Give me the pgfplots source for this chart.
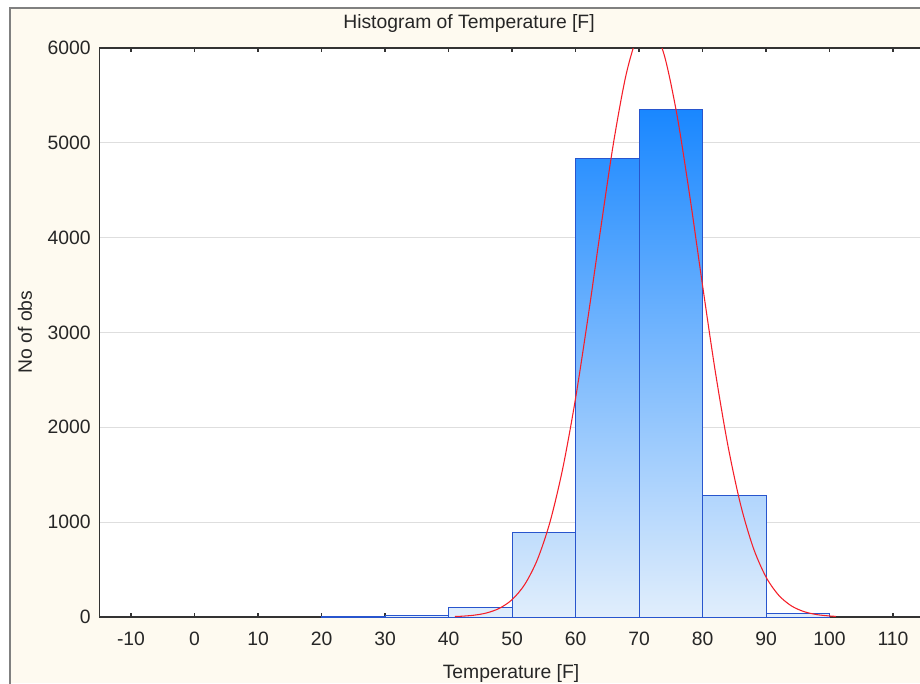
\documentclass[border=0pt]{standalone}
\usepackage{fontspec}
\setmainfont{Liberation Sans}
\usepackage{pgfplots}
\pgfplotsset{compat=1.18}

\definecolor{bgcream}{RGB}{254,250,240}
\definecolor{framegray}{RGB}{128,128,128}
\definecolor{baredge}{RGB}{40,85,205}
\definecolor{bartop}{RGB}{25,135,255}
\definecolor{barbottom}{RGB}{225,238,252}
\definecolor{fitred}{RGB}{245,30,40}
\definecolor{gridgray}{RGB}{222,222,222}

\newcommand{\chartfont}{\fontsize{14.5}{17}\selectfont}

\begin{document}
\begin{tikzpicture}
% page = 920x683 px, 1 px = 0.75pt, origin at the axis' lower left corner
\useasboundingbox (-74.44pt,-49.5pt) rectangle (615.56pt,462.75pt);
\fill[white] (-74.44pt,-49.5pt) rectangle (615.56pt,462.75pt);
\fill[bgcream] (-66.94pt,-49.5pt) rectangle (615.56pt,456.75pt);
\draw[framegray, line width=1.8pt] (-66.94pt,-52pt) -- (-66.94pt,456.75pt) -- (620pt,456.75pt);

\begin{axis}[
  at={(0pt,0pt)}, anchor=south west,
  scale only axis, width=615.56pt, height=426.75pt,
  xmin=-15, xmax=114.25, ymin=0, ymax=6000,
  axis x line=box, axis y line=left,
  axis line style={black!80, line width=0.8pt, -},
  xtick={-10,0,...,110}, ytick={0,1000,...,6000},
  tick align=inside, major tick length=3pt,
  ytick style={draw=none},
  xtick style={black!80, line width=0.8pt},
  ymajorgrids, grid style={gridgray, line width=0.75pt},
  axis background/.style={fill=white},
  scaled y ticks=false,
  /pgf/number format/1000 sep={},
  /pgf/number format/assume math mode=true,
  ticklabel style={font=\chartfont, text=black!85},
  xticklabel style={yshift=-7.5pt},
  yticklabel style={xshift=-3pt},
  title={Histogram of Temperature [F]},
  title style={font=\chartfont, text=black!85, at={(axis description cs:0.4505,1.0457)}, anchor=center, yshift=-6.75pt},
  xlabel={Temperature [F]},
  xlabel style={font=\chartfont, text=black!85, at={(axis description cs:0.5017,-0.0949)}, anchor=center, yshift=-1.5pt},
  ylabel={No of obs},
  ylabel style={font=\chartfont, text=black!85, at={(axis description cs:-0.0905,0.5008)}, anchor=center},
]
\addplot[ybar interval, draw=baredge, line width=0.75pt,
  top color=bartop, bottom color=barbottom]
  coordinates {(20,8) (30,12) (40,95) (50,896) (60,4838) (70,5356) (80,1286) (90,40) (100,40)};

\addplot[fitred, line width=0.8pt, smooth] coordinates {
  (41,4.95) (42,7.9) (44,18.9) (46,42.9) (48,91.3) (50,182.5) (52,342.9)
  (54,605.8) (56,1006) (58,1570) (60,2303) (62,3174) (64,4111) (66,5006)
  (68,5729) (70,6163) (72,6230) (74,5919) (76,5286) (78,4436) (80,3499)
  (82,2594) (84,1808) (86,1184) (88,728.7) (90,421.6) (92,229.2) (94,117.1)
  (96,56.3) (98,25.4) (100,10.8) (101,6.9)};
\end{axis}
\end{tikzpicture}
\end{document}
